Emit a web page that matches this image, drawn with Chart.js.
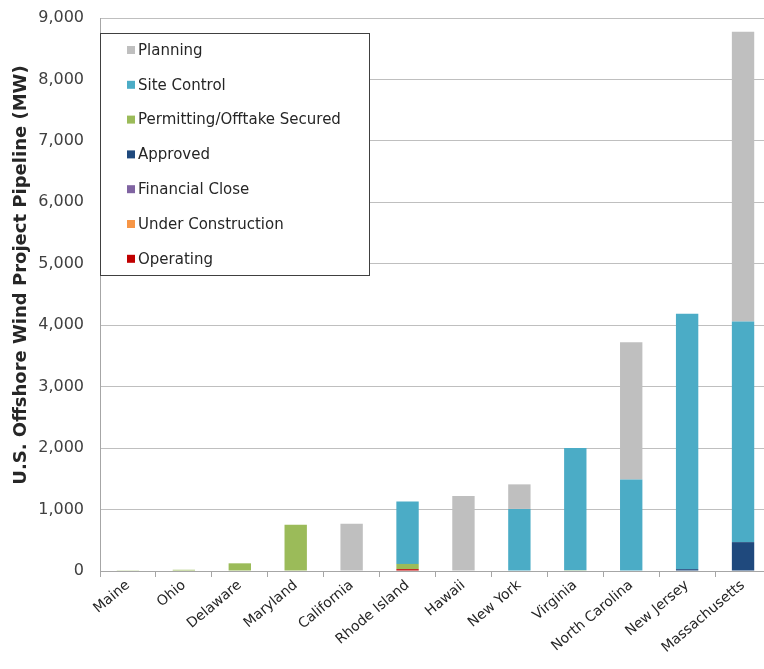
<!DOCTYPE html>
<html>
<head>
<meta charset="utf-8">
<script src="https://cdn.jsdelivr.net/npm/chart.js@4/dist/chart.umd.min.js"></script>
<style>
  html, body { margin: 0; padding: 0; background: #fff; overflow: hidden; }
  #wrap { width: 771px; height: 669px; position: relative; }
</style>
</head>
<body>
<div id="wrap"><canvas id="c"></canvas></div>
<script>
const states = ["Maine", "Ohio", "Delaware", "Maryland", "California", "Rhode Island", "Hawaii", "New York", "Virginia", "North Carolina", "New Jersey", "Massachusetts"];
const operating          = [0, 0, 0, 0, 0, 30, 0, 0, 0, 0, 0, 0];
const underConstruction  = [0, 0, 0, 0, 0, 0, 0, 0, 0, 0, 0, 0];
const financialClose     = [0, 0, 0, 0, 0, 0, 0, 0, 0, 0, 0, 0];
const approved           = [0, 0, 0, 0, 0, 0, 0, 0, 0, 0, 30, 470];
const permitting         = [12, 20, 125, 752, 0, 85, 0, 0, 12, 0, 0, 0];
const siteControl        = [0, 0, 0, 0, 0, 1015, 0, 1010, 1988, 1489, 4156, 3590];
const planning           = [0, 0, 0, 0, 770, 0, 1220, 400, 0, 2233, 0, 4718];
const yTicks = [0, 1000, 2000, 3000, 4000, 5000, 6000, 7000, 8000, 9000];
const yTitle = "U.S. Offshore Wind Project Pipeline (MW)";

const FONT = "'DejaVu Sans', sans-serif";

const datasets = [
  { label: "Operating", data: operating, backgroundColor: "#C00000" },
  { label: "Under Construction", data: underConstruction, backgroundColor: "#F79646" },
  { label: "Financial Close", data: financialClose, backgroundColor: "#8064A2" },
  { label: "Approved", data: approved, backgroundColor: "#1F497D" },
  { label: "Permitting/Offtake Secured", data: permitting, backgroundColor: "#9BBB59" },
  { label: "Site Control", data: siteControl, backgroundColor: "#4BACC6" },
  { label: "Planning", data: planning, backgroundColor: "#BFBFBF" }
];

const boxLegend = {
  id: "boxLegend",
  afterDraw(chart) {
    const ctx = chart.ctx;
    const x0 = 100, y0 = 33, w = 269, h = 242;
    ctx.save();
    ctx.fillStyle = "#ffffff";
    ctx.fillRect(x0, y0, w, h);
    ctx.strokeStyle = "#404040";
    ctx.lineWidth = 1;
    ctx.strokeRect(x0 + 0.5, y0 + 0.5, w, h);
    ctx.font = "15px " + FONT;
    ctx.textBaseline = "middle";
    const items = chart.data.datasets.slice().reverse();
    items.forEach((ds, i) => {
      const cy = 50 + i * 34.8;
      ctx.fillStyle = ds.backgroundColor;
      ctx.fillRect(127, cy - 4, 8, 8);
      ctx.fillStyle = "#262626";
      ctx.fillText(ds.label, 138, cy + 1);
    });
    // y axis title
    ctx.translate(21, 275);
    ctx.rotate(-Math.PI / 2);
    ctx.textAlign = "center";
    ctx.font = "bold 18px " + FONT;
    ctx.fillStyle = "#262626";
    ctx.fillText(yTitle, 0, 0);
    ctx.restore();
  }
};

new Chart(document.getElementById("c"), {
  type: "bar",
  data: { labels: states, datasets },
  options: {
    responsive: true,
    maintainAspectRatio: false,
    animation: false,
    devicePixelRatio: 1,
    layout: { padding: { top: 18, right: 0, left: 8, bottom: 0 } },
    plugins: { legend: { display: false }, tooltip: { enabled: false } },
    datasets: { bar: { categoryPercentage: 1.0, barPercentage: 0.4 } },
    scales: {
      x: {
        stacked: true,
        grid: { display: true, drawOnChartArea: false, drawTicks: true, tickLength: 6, color: "#A6A6A6", offset: true },
        border: { display: true, color: "#A6A6A6" },
        ticks: { maxRotation: 40, minRotation: 40, color: "#262626", font: { family: FONT, size: 14 }, padding: 0, autoSkip: false },
        afterFit(scale) { scale.height = 98; scale.paddingTop = 0; scale.paddingLeft = 0; scale.paddingRight = 0; }
      },
      y: {
        stacked: true,
        min: 0, max: 9000,
        afterBuildTicks(scale) { scale.ticks = yTicks.map(v => ({ value: v })); },
        grid: { color: "#BFBFBF", drawTicks: false },
        border: { display: true, color: "#A6A6A6" },
        ticks: {
          color: "#404040",
          padding: 16,
          font: { family: FONT, size: 16 },
          callback: v => v.toLocaleString("en-US")
        },
        afterFit(scale) { scale.width = 92; scale.paddingTop = 0; scale.paddingBottom = 0; }
      }
    }
  },
  plugins: [boxLegend]
});
</script>
</body>
</html>
